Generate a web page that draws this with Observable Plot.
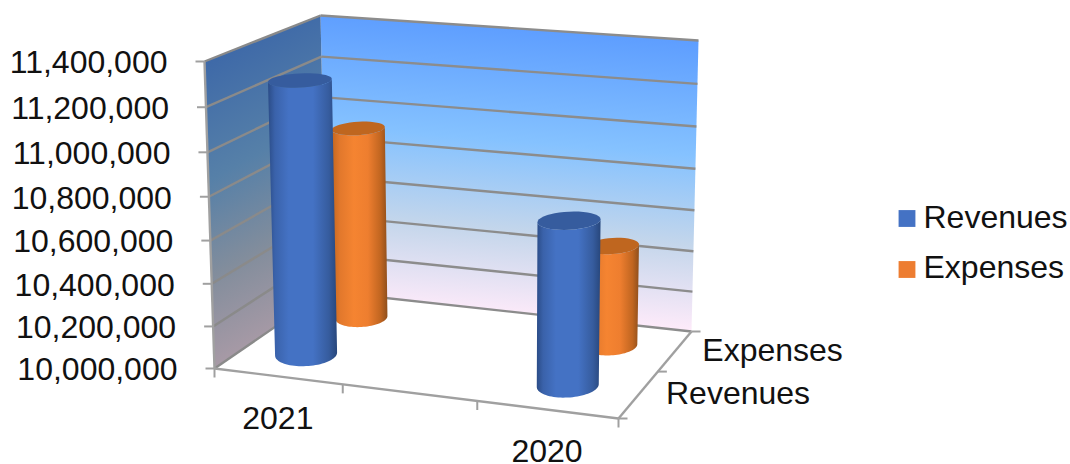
<!DOCTYPE html>
<html>
<head>
<meta charset="utf-8">
<script src="https://cdn.jsdelivr.net/npm/d3@7"></script>
<script src="https://cdn.jsdelivr.net/npm/@observablehq/plot@0.6"></script>
<style>html,body{margin:0;padding:0;background:#fff}svg{display:block}</style>
</head>
<body>
<div id="chart"></div>
<script>
// Chart data
const categories = ["2021", "", "2020"];
const series = ["Revenues", "Expenses"];
const revenues = [11280000, null, 10760000];
const expenses = [10940000, null, 10487000];
const valueTicks = [10000000, 10200000, 10400000, 10600000, 10800000, 11000000, 11200000, 11400000];

const FONT = "Liberation Sans, Arial, sans-serif";
const FS = 32;
const INK = "#111";

// Value scale: 0 at the floor of the box, 1 at its ceiling
const valueScale = Plot.scale({y: {domain: d3.extent(valueTicks), range: [0, 1]}});

// Corners of the 3D box on the page, indexed [depth][width]
const floor = [[[214, 368], [618, 418]], [[326, 291], [691, 331]]];
const ceil = [[[204, 61], [622, 96]], [[320, 15], [698, 40]]];

// Foreshortening along each axis of the box
const warpU = u => u / (1 + 0.075 * (1 - u));
const warpV = v => v * 1.17 / (1 + 0.17 * v);
const warpT = t => t / (1 + 0.05 * (1 - t));
const mix = (a, b, f) => a + (b - a) * f;

// Box coordinates (width, depth, height, each 0..1) to page coordinates
function project(u, v, t) {
  const U = warpU(u), V = warpV(v), T = warpT(t);
  const at = (c, k) => mix(mix(c[0][0][k], c[0][1][k], U), mix(c[1][0][k], c[1][1][k], U), V);
  return [mix(at(floor, 0), at(ceil, 0), T), mix(at(floor, 1), at(ceil, 1), T)];
}

// Cylinders sit slightly off the category and series centres
const uOf = i => (i + 0.5) / categories.length;
const vOf = j => (j + 0.5) / series.length;
const tOf = d => valueScale.apply(d);
const cylU = (i, j) => uOf(i) + (j === 0 ? -0.004 : 0.01);
const cylV = j => vOf(j) + (j === 0 ? 0 : -0.025);

// Segments between two box positions, and short ticks leaving a box position
const seg = (a, b) => {
  const p = project(...a), q = project(...b);
  return {x1: p[0], y1: p[1], x2: q[0], y2: q[1]};
};
const tick = (a, dx, dy) => {
  const p = project(...a);
  return {x1: p[0], y1: p[1], x2: p[0] + dx, y2: p[1] + dy};
};

// Walls
const backWall = [[0,1,0],[1,1,0],[1,1,1],[0,1,1]].map(c => project(...c));
const sideWall = [[0,0,0],[0,1,0],[0,1,1],[0,0,1]].map(c => project(...c));

const backGrid = valueTicks.map(d => seg([0, 1, tOf(d)], [1, 1, tOf(d)]));
const sideGrid = valueTicks.map(d => seg([0, 0, tOf(d)], [0, 1, tOf(d)]));
const frameLines = [
  seg([0, 0, 0], [0, 0, 1]),
  seg([0, 0, 0], [1, 0, 0]),
  seg([1, 0, 0], [1, 1, 0])
];
const ticks = [
  ...valueTicks.map(d => tick([0, 0, tOf(d)], -9, 0)),
  ...d3.range(categories.length + 1).map(i => tick([i / categories.length, 0, 0], 0, 9)),
  ...d3.range(series.length + 1).map(j => tick([1, j / series.length, 0], 9, 0))
];

// Cylinders: outline of the body and of the top cap, as closed point lists
function cylinder(i, j, value) {
  const t = tOf(value), u = cylU(i, j), v = cylV(j);
  const depth = j === 0 ? 1 : 0.8;
  const width = j === 0 ? 1 : 0.84;
  const base = project(u, v, 0), top = project(u, v, t);
  const rx = h => (31 + h) * width;
  const ry = h => (12 - 5.4 * h) * depth;
  const ring = (c, h, a0, a1) => d3.range(0, 41).map(k => {
    const a = mix(a0, a1, k / 40);
    return [c[0] + rx(h) * Math.cos(a), c[1] + ry(h) * Math.sin(a) - 1.5 * Math.cos(a)];
  });
  return {
    series: series[j],
    body: [...ring(base, 0, 0, Math.PI), ...ring(top, t, Math.PI, 0)],
    cap: ring(top, t, 0, 2 * Math.PI)
  };
}

const cylinders = [];
categories.forEach((c, i) => {
  if (expenses[i] != null) cylinders.push(cylinder(i, 1, expenses[i]));
  if (revenues[i] != null) cylinders.push(cylinder(i, 0, revenues[i]));
});

const bodyFill = {Revenues: "url(#bodyRev)", Expenses: "url(#bodyExp)"};
const capFill = {Revenues: "#365C9E", Expenses: "#BF661F"};
const legendFill = {Revenues: "#4472C4", Expenses: "#ED7D31"};

const shape = (pts, fill) => Plot.line(pts, {
  x: d => d[0], y: d => d[1], fill, stroke: "none", curve: "linear-closed"
});

// Gradient definitions shared by the walls and cylinders
const defs = () => {
  const svg = d3.create("svg:defs");
  const grad = (id, attrs, stops) => {
    const g = svg.append("linearGradient").attr("id", id);
    Object.entries(attrs).forEach(([k, v]) => g.attr(k, v));
    stops.forEach(([o, c]) => g.append("stop").attr("offset", o).attr("stop-color", c));
  };
  grad("backFill", {gradientUnits: "userSpaceOnUse", x1: 510, y1: 27, x2: 487, y2: 316},
    [[0, "#5E9EFF"], [0.39, "#85C2FF"], [0.7, "#C4D6EB"], [1, "#FFEBFA"]]);
  grad("sideFill", {gradientUnits: "userSpaceOnUse", x1: 204, y1: 61, x2: 336, y2: 301},
    [[0, "#3E69A8"], [0.39, "#5680A8"], [0.7, "#828D9C"], [1, "#A89AA6"]]);
  grad("bodyRev", {x1: 0, y1: 0, x2: 1, y2: 0},
    [[0, "#2B4C87"], [0.1, "#3A62AA"], [0.3, "#4472C4"], [0.65, "#4472C4"], [0.88, "#365C9E"], [1, "#28477C"]]);
  grad("bodyExp", {x1: 0, y1: 0, x2: 1, y2: 0},
    [[0, "#C2661F"], [0.15, "#E2782C"], [0.4, "#F58431"], [0.65, "#EE7E2F"], [0.88, "#C06520"], [1, "#8F4F1C"]]);
  return svg.node();
};

const xOf = d => d.x, yOf = d => d.y;
const yLabels = valueTicks.map(d => {
  const p = project(0, 0, tOf(d));
  return {x: p[0] - 37, y: p[1] + 1.5, text: d3.format(",")(d)};
});
const xLabels = categories.map((c, i) => {
  const p = project(uOf(i), 0, 0);
  return {x: p[0], y: p[1] + 42, text: c};
}).filter(d => d.text);
const zLabels = series.map((s, j) => {
  const p = project(1, vOf(j), 0);
  return {x: p[0] + 27, y: p[1], text: s};
});

const legendX = 898;
const legendRows = [
  {s: series[0], swatchY: 218, textY: 217.5},
  {s: series[1], swatchY: 269, textY: 267.5}
];

const plot = Plot.plot({
  width: 1070,
  height: 464,
  margin: 0,
  style: {background: "#fff", fontFamily: FONT},
  x: {domain: [0, 1070], range: [0, 1070], axis: null},
  y: {domain: [0, 464], range: [0, 464], axis: null},
  marks: [
    defs,
    shape(backWall, "url(#backFill)"),
    shape(sideWall, "url(#sideFill)"),
    Plot.link(sideGrid, {x1: "x1", y1: "y1", x2: "x2", y2: "y2", stroke: "#8A8A8A", strokeWidth: 2.4}),
    Plot.link(backGrid, {x1: "x1", y1: "y1", x2: "x2", y2: "y2", stroke: "#8C8C8C", strokeWidth: 2.4}),
    Plot.link(frameLines, {x1: "x1", y1: "y1", x2: "x2", y2: "y2", stroke: "#A0A0A0", strokeWidth: 2.4}),
    Plot.link(ticks, {x1: "x1", y1: "y1", x2: "x2", y2: "y2", stroke: "#A0A0A0", strokeWidth: 2}),
    ...cylinders.flatMap(c => [shape(c.body, bodyFill[c.series]), shape(c.cap, capFill[c.series])]),
    Plot.text(yLabels, {x: xOf, y: yOf, text: "text", textAnchor: "end", lineAnchor: "middle", fontSize: FS, fill: INK}),
    Plot.text(xLabels, {x: xOf, y: yOf, text: "text", textAnchor: "middle", lineAnchor: "middle", fontSize: FS, fill: INK}),
    Plot.text(zLabels, {x: xOf, y: yOf, text: "text", textAnchor: "start", lineAnchor: "middle", fontSize: FS, fill: INK}),
    Plot.dot(legendRows, {x: legendX + 8.5, y: "swatchY", symbol: "square", r: 9.5, fill: d => legendFill[d.s], stroke: "none"}),
    Plot.text(legendRows, {x: legendX + 25, y: "textY", text: "s", textAnchor: "start", lineAnchor: "middle", fontSize: FS, fill: INK})
  ]
});
document.getElementById("chart").append(plot);
</script>
</body>
</html>
